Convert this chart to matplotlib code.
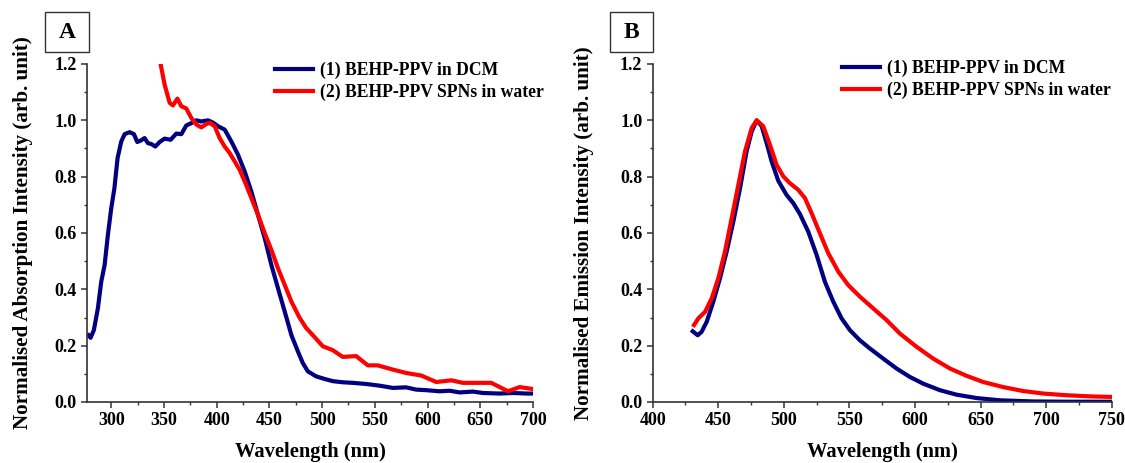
import matplotlib
matplotlib.use("Agg")
import matplotlib.pyplot as plt
from matplotlib.patches import Rectangle
from matplotlib.ticker import MultipleLocator

# ---------------- data ----------------
abs_dcm_wl = [278.5, 280.4, 283.5, 287.3, 290.5, 293.7, 296.8, 300, 303, 306, 309.5, 312.7,
              317.4, 321.5, 324.7, 327.8, 331.6, 334.8, 338, 341.8, 345.9, 350.6, 356.3,
              361.7, 366.5, 371.2, 376, 380.7, 385.4, 391.8, 396.5, 401.3, 407.6, 413.9,
              420.2, 426.6, 432.9, 439.2, 445.6, 451.9, 458.2, 464.6, 470.9, 477.2, 481.6,
              486.4, 494.3, 502.2, 510.1, 519.6, 529.1, 541.8, 554.4, 567.1, 579.7, 589.2,
              598.7, 611.4, 620.9, 630.4, 643, 652.5, 668.4, 681, 693.7, 700]
abs_dcm_val = [0.237, 0.228, 0.255, 0.332, 0.427, 0.486, 0.593, 0.688, 0.759, 0.866, 0.925, 0.951,
               0.958, 0.951, 0.923, 0.928, 0.937, 0.919, 0.916, 0.907, 0.923, 0.935, 0.931,
               0.953, 0.951, 0.982, 0.99, 1.0, 0.996, 1.0, 0.992, 0.979, 0.967, 0.925,
               0.878, 0.818, 0.747, 0.664, 0.581, 0.486, 0.403, 0.32, 0.237, 0.178, 0.139,
               0.109, 0.091, 0.082, 0.074, 0.07, 0.068, 0.064, 0.058, 0.05, 0.052, 0.044,
               0.042, 0.038, 0.04, 0.034, 0.037, 0.032, 0.03, 0.032, 0.03, 0.03]

abs_spn_wl = [340, 344, 346.8, 350.6, 355.4, 358.5, 362.7, 366.5, 371.2, 376, 380.7, 385.4,
              390.2, 393.4, 398.1, 402.8, 407.6, 412.3, 417.1, 421.8, 426.6, 432.9, 439.2,
              445.6, 451.9, 458.2, 464.6, 470.9, 478.5, 484.8, 492.7, 500.6, 510.1, 519.6,
              532.3, 543.4, 552.8, 567.1, 579.7, 594, 608.2, 622.5, 633.5, 646.2, 660.4,
              668.4, 676.3, 687.3, 700]
abs_spn_val = [1.36, 1.27, 1.2, 1.127, 1.062, 1.053, 1.077, 1.05, 1.042, 1.008, 0.985, 0.975,
               0.987, 0.991, 0.979, 0.937, 0.907, 0.884, 0.854, 0.824, 0.783, 0.724, 0.664,
               0.599, 0.54, 0.474, 0.415, 0.356, 0.3, 0.263, 0.231, 0.198, 0.184, 0.16,
               0.163, 0.13, 0.13, 0.115, 0.103, 0.094, 0.071, 0.077, 0.068, 0.068, 0.068,
               0.053, 0.038, 0.053, 0.046]

em_dcm_wl = [430.5, 434.3, 437.3, 441.2, 446.2, 451.3, 456.4, 461.5, 466.6, 471.6, 475.5, 479.3,
             483.1, 486.9, 490.7, 495.8, 502.1, 507.2, 512.3, 518.6, 525, 531.3, 537.7, 544,
             550.4, 558, 565.6, 575.8, 585.9, 596.1, 606.3, 619, 631.7, 647, 664.7, 690.1,
             715.5, 750]
em_dcm_val = [0.251, 0.237, 0.249, 0.285, 0.356, 0.439, 0.534, 0.641, 0.759, 0.89, 0.961, 1.0,
              0.979, 0.919, 0.854, 0.785, 0.735, 0.706, 0.667, 0.605, 0.522, 0.427, 0.356, 0.297,
              0.255, 0.219, 0.19, 0.154, 0.119, 0.089, 0.065, 0.042, 0.026, 0.014, 0.006, 0.002,
              0.001, 0.001]

em_spn_wl = [431.5, 434.8, 439.9, 445, 450, 455.1, 460.2, 465.3, 470.4, 475.5, 479.3, 484.3,
             489.4, 494.5, 499.6, 504.6, 511, 516.1, 521.2, 527.5, 533.9, 541.5, 549.1, 558,
             568.2, 578.3, 588.5, 601.2, 613.9, 626.6, 639.3, 652, 667.3, 682.5, 697.8, 715.5,
             733.3, 750]
em_spn_val = [0.273, 0.297, 0.32, 0.368, 0.439, 0.534, 0.652, 0.771, 0.89, 0.973, 1.0, 0.979,
              0.913, 0.842, 0.801, 0.777, 0.753, 0.724, 0.67, 0.599, 0.528, 0.463, 0.415, 0.374,
              0.332, 0.291, 0.243, 0.196, 0.154, 0.119, 0.093, 0.071, 0.053, 0.039, 0.03, 0.024,
              0.02, 0.018]

labels = ["(1) BEHP-PPV in DCM", "(2) BEHP-PPV SPNs in water"]
ylabels = ["Normalised Absorption Intensity (arb. unit)",
           "Normalised Emission Intensity (arb. unit)"]
xlabel = "Wavelength (nm)"
panel_letters = ["A", "B"]

# ---------------- style ----------------
plt.rcParams['font.family'] = ['Liberation Serif', 'DejaVu Serif']
plt.rcParams['font.weight'] = 'bold'
NAVY = '#000080'
RED = '#FF0000'
W, H = 1125, 463
fig = plt.figure(figsize=(W / 100, H / 100), dpi=100)

def fx(px):
    return px / W

def fy(py):
    return 1 - py / H

axA = fig.add_axes([fx(87), fy(402), fx(533) - fx(87), fy(64) - fy(402)])
axB = fig.add_axes([fx(652.7), fy(402), fx(1111.7) - fx(652.7), fy(64) - fy(402)])

lw = 3.0
axA.plot(abs_dcm_wl, abs_dcm_val, color=NAVY, lw=lw, label=labels[0])
axA.plot(abs_spn_wl, abs_spn_val, color=RED, lw=lw, label=labels[1])
axB.plot(em_dcm_wl, em_dcm_val, color=NAVY, lw=lw, label=labels[0])
axB.plot(em_spn_wl, em_spn_val, color=RED, lw=lw, label=labels[1])

axA.set_xlim(277, 700)
axB.set_xlim(400, 750)

for ax, yl, xlab_off, ylab_x in [(axA, ylabels[0], -0.117, -0.122), (axB, ylabels[1], -0.117, -0.127)]:
    ax.set_ylim(0, 1.2)
    ax.xaxis.set_major_locator(MultipleLocator(50))
    ax.xaxis.set_minor_locator(MultipleLocator(25))
    ax.yaxis.set_major_locator(MultipleLocator(0.2))
    ax.yaxis.set_minor_locator(MultipleLocator(0.1))
    ax.yaxis.set_major_formatter(matplotlib.ticker.FormatStrFormatter('%.1f'))
    ax.spines['top'].set_visible(False)
    ax.spines['right'].set_visible(False)
    for s in ('left', 'bottom'):
        ax.spines[s].set_linewidth(1.2)
        ax.spines[s].set_color('#333333')
    ax.tick_params(which='major', direction='out', length=4.5, width=1.1, color='#333333',
                   labelsize=13, pad=3)
    ax.tick_params(which='minor', direction='out', length=2.5, width=1.0, color='#333333')
    for lab in ax.get_xticklabels() + ax.get_yticklabels():
        lab.set_fontweight('bold')
    ax.set_xlabel(xlabel, fontsize=14.8, fontweight='bold')
    ax.set_ylabel(yl, fontsize=15.2, fontweight='bold')
    ax.xaxis.set_label_coords(0.5, xlab_off)
    ax.yaxis.set_label_coords(ylab_x, 0.5)

# legends
for ax, lx, ty in [(axA, 275, 62), (axB, 841.7, 60)]:
    ax.legend(loc='upper left', bbox_to_anchor=(fx(lx), fy(ty)), bbox_transform=fig.transFigure,
              frameon=False, borderpad=0, borderaxespad=0, handlelength=2.15,
              handletextpad=0.4, labelspacing=0.25, prop={'size': 12.7, 'weight': 'bold'})

# panel letter boxes
for letter, x0, x1 in [(panel_letters[0], 45, 89), (panel_letters[1], 610, 652.7)]:
    rect = Rectangle((fx(x0), fy(52)), fx(x1) - fx(x0), fy(12) - fy(52), transform=fig.transFigure,
                     fill=False, edgecolor='#333333', linewidth=1.0)
    fig.patches.append(rect)
    fig.text(fx((x0 + x1) / 2), fy(32), letter, ha='center', va='center', fontsize=17,
             fontweight='bold')

fig.savefig('out.png', dpi=100)
